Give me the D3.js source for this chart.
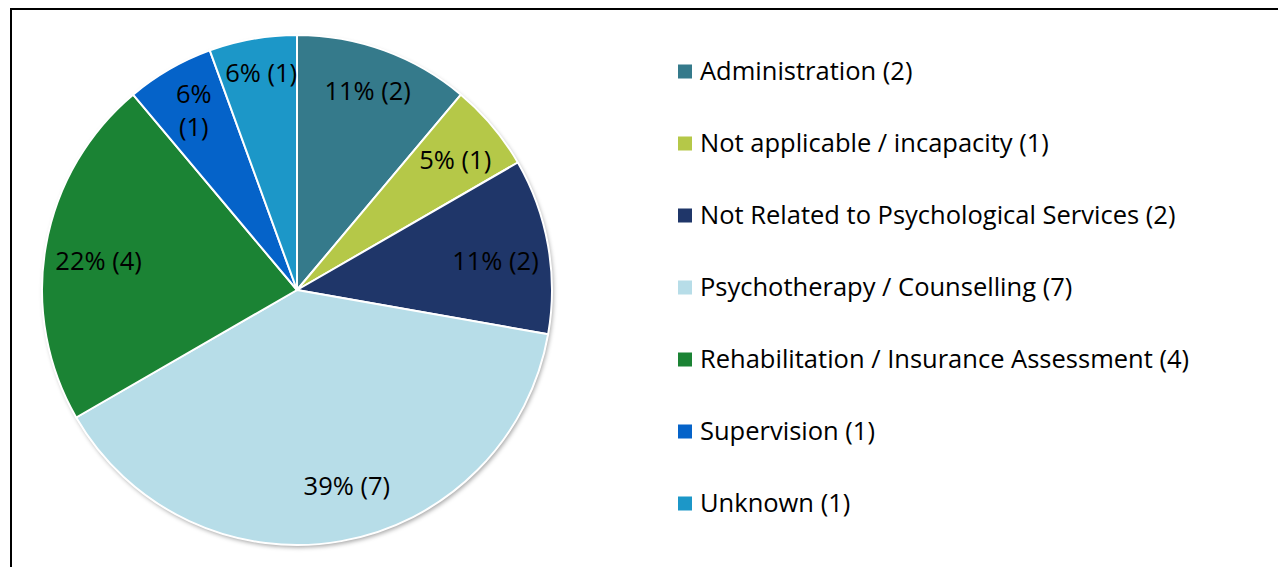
<!DOCTYPE html>
<html lang="en-US">

<head>
    <meta charset="UTF-8" />
    <title>Pie Chart</title>
    <style>
        body {
            margin: 0;
            background: #fff;
        }

        text {
            font-family: "Open Sans", sans-serif;
            fill: #000;
        }
    </style>
    <script src="https://d3js.org/d3.v7.min.js"></script>
</head>

<body>
    <div id="container"></div>
    <script>
        const categories = [
            "Administration",
            "Not applicable / incapacity",
            "Not Related to Psychological Services",
            "Psychotherapy / Counselling",
            "Rehabilitation / Insurance Assessment",
            "Supervision",
            "Unknown"
        ];
        const counts = [2, 1, 2, 7, 4, 1, 1];
        // percentages as printed on the slices
        const percentLabels = ["11%", "5%", "11%", "39%", "22%", "6%", "6%"];
        const colors = ["#357A8B", "#B5C848", "#1F3669", "#B7DDE8", "#1B8334", "#0563C9", "#1C97C8"];

        const width = 1278;
        const height = 567;
        const cx = 297, cy = 290, radius = 255;

        // small nudges so labels sit where Excel's "best fit" put them
        const labelNudge = {
            "Administration": [0, -5],
            "Not applicable / incapacity": [0, 3],
            "Not Related to Psychological Services": [-5, 7],
            "Psychotherapy / Counselling": [14, -8],
            "Rehabilitation / Insurance Assessment": [5, 7],
            "Supervision": [0, 0],
            "Unknown": [0, -14]
        };

        const svg = d3.select("#container")
            .append("svg")
            .attr("width", width)
            .attr("height", height);

        // drop shadow under the pie
        const defs = svg.append("defs");
        const shadow = defs.append("filter")
            .attr("id", "shadow")
            .attr("x", "-10%").attr("y", "-10%")
            .attr("width", "120%").attr("height", "120%");
        shadow.append("feDropShadow")
            .attr("dx", 1.5).attr("dy", 2.5)
            .attr("stdDeviation", 2)
            .attr("flood-color", "#000")
            .attr("flood-opacity", 0.35);

        // chart border (only top and left show in the window)
        svg.append("rect")
            .attr("x", 11).attr("y", 9)
            .attr("width", 1400).attr("height", 700)
            .attr("fill", "none")
            .attr("stroke", "#000")
            .attr("stroke-width", 2);

        const data = categories.map((c, i) => ({
            name: c, value: counts[i], pct: percentLabels[i], color: colors[i]
        }));

        const pie = d3.pie().sort(null).value(d => d.value);
        const arcs = pie(data);
        const arc = d3.arc().innerRadius(0).outerRadius(radius);
        const labelArc = d3.arc().innerRadius(radius * 0.81).outerRadius(radius * 0.81);

        const g = svg.append("g").attr("transform", `translate(${cx},${cy})`);

        g.append("circle")
            .attr("r", radius)
            .attr("fill", "#fff")
            .attr("filter", "url(#shadow)");

        g.selectAll("path")
            .data(arcs)
            .join("path")
            .attr("d", arc)
            .attr("fill", d => d.data.color)
            .attr("stroke", "#fff")
            .attr("stroke-width", 2)
            .attr("stroke-linejoin", "round");

        const labels = g.selectAll("text.lbl")
            .data(arcs)
            .join("text")
            .attr("class", "lbl")
            .attr("transform", d => {
                const [x, y] = labelArc.centroid(d);
                const [nx, ny] = labelNudge[d.data.name];
                return `translate(${x + nx},${y + ny})`;
            })
            .attr("text-anchor", "middle")
            .attr("font-size", "25.5px");

        labels.each(function (d) {
            const t = d3.select(this);
            if (d.data.name === "Supervision") {
                // narrow slice: Excel wraps the label onto two lines
                t.append("tspan").attr("x", 0).attr("dy", "-0.32em").text(d.data.pct);
                t.append("tspan").attr("x", 0).attr("dy", "1.3em").text(`(${d.data.value})`);
            } else {
                t.append("tspan").attr("x", 0).attr("dy", "0.36em")
                    .text(`${d.data.pct} (${d.data.value})`);
            }
        });

        // legend
        const legendY = d3.scalePoint()
            .domain(categories)
            .range([71.5, 503.5]);

        const legend = svg.append("g")
            .selectAll("g")
            .data(data)
            .join("g")
            .attr("transform", d => `translate(678,${legendY(d.name)})`);

        legend.append("rect")
            .attr("x", 0).attr("y", -7)
            .attr("width", 14).attr("height", 14)
            .attr("fill", d => d.color);

        legend.append("text")
            .attr("x", 22)
            .attr("dy", "0.33em")
            .attr("font-size", "25.5px")
            .text(d => `${d.name} (${d.value})`);
    </script>
</body>

</html>
